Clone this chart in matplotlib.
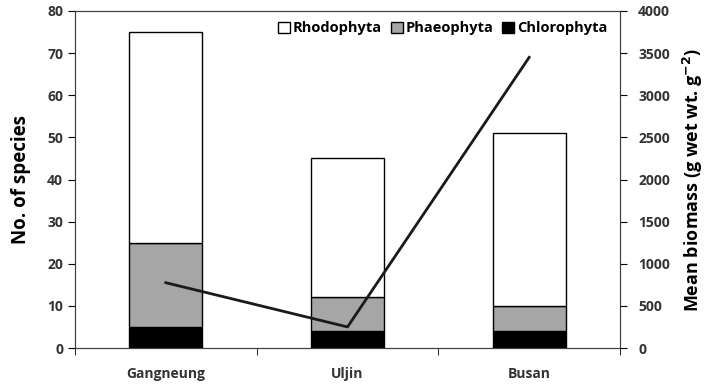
import matplotlib
matplotlib.use("Agg")
import matplotlib.pyplot as plt
import numpy as np

plt.rcParams["font.family"] = ["Open Sans", "DejaVu Sans"]
plt.rcParams["font.weight"] = "bold"
plt.rcParams["mathtext.default"] = "bf"

sites = ["Gangneung", "Uljin", "Busan"]
chlorophyta = [5, 4, 4]
phaeophyta = [20, 8, 6]
rhodophyta = [50, 33, 41]
biomass = [775, 250, 3450]

fig = plt.figure(figsize=(7.2, 3.91), dpi=100)
ax = fig.add_axes([75 / 720, 1 - 348 / 391, (620 - 75) / 720, (348 - 11) / 391])

x = np.arange(len(sites))
w = 0.4
chl = np.array(chlorophyta)
pha = np.array(phaeophyta)
rho = np.array(rhodophyta)
ax.bar(x, chl, w, color="black", edgecolor="black", lw=1, label="Chlorophyta", zorder=2)
ax.bar(x, pha, w, bottom=chl, color="#a6a6a6", edgecolor="black", lw=1, label="Phaeophyta", zorder=2)
ax.bar(x, rho, w, bottom=chl + pha, color="white", edgecolor="black", lw=1, label="Rhodophyta", zorder=2)

ax.set_xlim(-0.5, 2.5)
ax.set_ylim(0, 80)
ax.set_yticks(range(0, 81, 10))
ax.set_xticks(x)
ax.set_xticklabels(sites, fontsize=10, fontweight="bold", color="#333333")
ax.tick_params(axis="x", length=0, pad=14)
ax.set_xticks([-0.5, 0.5, 1.5, 2.5], minor=True)
ax.tick_params(axis="x", which="minor", length=5, direction="out")
ax.tick_params(axis="y", length=5, direction="out", labelsize=10, labelcolor="#333333")
for lbl in ax.get_yticklabels():
    lbl.set_fontweight("bold")
ax.set_ylabel("No. of species", fontsize=13.5, fontweight="bold", labelpad=12)

for s in ax.spines.values():
    s.set_color("#404040")

h, l = ax.get_legend_handles_labels()
ax.legend(h[::-1], l[::-1], loc="upper right", ncol=3, frameon=False,
          handlelength=0.8, handleheight=0.8, handletextpad=0.2, columnspacing=0.6,
          borderaxespad=0.3, bbox_to_anchor=(0.995, 1.0),
          prop={"weight": "bold", "size": 10.5})

ax2 = ax.twinx()
ax2.plot(x, biomass, color="#1a1a1a", lw=2, zorder=3)
ax2.set_ylim(0, 4000)
ax2.set_yticks(range(0, 4001, 500))
ax2.tick_params(axis="y", length=5, direction="out", labelsize=10, pad=8, labelcolor="#333333")
for lbl in ax2.get_yticklabels():
    lbl.set_fontweight("bold")
ax2.set_ylabel("Mean biomass (g wet wt. g$^{-2}$)", fontsize=13, fontweight="bold", labelpad=8)
for s in ax2.spines.values():
    s.set_color("#404040")

fig.savefig("out.png", dpi=100)
